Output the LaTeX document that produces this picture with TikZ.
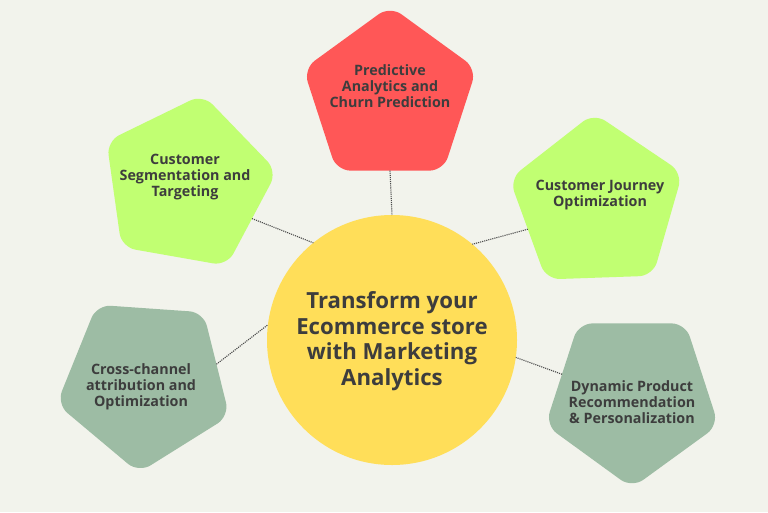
\documentclass[tikz,border=0pt]{standalone}
\usepackage{fontspec}
\setmainfont{Open Sans}
\usetikzlibrary{shapes.geometric}
\definecolor{bg}{HTML}{F2F3EC}
\definecolor{redp}{HTML}{FF5757}
\definecolor{limep}{HTML}{C1FF72}
\definecolor{sagep}{HTML}{9DBCA4}
\definecolor{yellowc}{HTML}{FFDE59}
\definecolor{txt}{HTML}{3D3D3D}
\definecolor{dotc}{HTML}{4A4A4A}
\begin{document}
\begin{tikzpicture}[x=1pt,y=-1pt,
  penta/.style={regular polygon, regular polygon sides=5, minimum size=182pt,
    inner sep=0pt, outer sep=0pt, rounded corners=14pt, fill=#1},
  lbl/.style={align=center, text=txt, font=\bfseries\fontsize{14.3}{16}\selectfont, inner sep=0pt},
  hubtext/.style={align=center, text=txt, font=\bfseries\fontsize{22.2}{25.5}\selectfont, inner sep=0pt},
  link/.style={draw=dotc, densely dotted, line width=1.1pt}]
\fill[bg] (0,0) rectangle (768,512);
\useasboundingbox (0,0) rectangle (768,512);
\node[circle, fill=yellowc, minimum size=250pt, inner sep=0pt, outer sep=0pt] (hub) at (392,340) {};
\node[penta=redp, shape border rotate=0] (p1) at (390,97) {};
\node[penta=limep, shape border rotate=-10] (p2) at (187,184) {};
\node[penta=limep, shape border rotate=2] (p3) at (597,204) {};
\node[penta=sagep, shape border rotate=176] (p4) at (145,382) {};
\node[penta=sagep, shape border rotate=180] (p5) at (632,397) {};
\draw[link] (p1.side 3) -- (hub.90);
\draw[link] (p2.side 4) -- (hub.129.5);
\draw[link] (p3.side 2) -- (hub.50);
\draw[link] (p4.side 2) -- (hub.173);
\draw[link] (p5.side 4) -- (hub.352);
\node[lbl] (t1) at (390,86) {Predictive\\Analytics and\\Churn Prediction};
\node[lbl] (t2) at (185,177) {Customer\\Segmentation and\\Targeting};
\node[lbl] (t3) at (600,195) {Customer Journey\\Optimization};
\node[lbl] (t4) at (141,387) {Cross-channel\\attribution and\\Optimization};
\node[lbl] (t5) at (632,402) {Dynamic Product\\Recommendation\\\& Personalization};
\node[hubtext] (ht) at (392,341) {Transform your\\Ecommerce store\\with Marketing\\Analytics};
\end{tikzpicture}
\end{document}
